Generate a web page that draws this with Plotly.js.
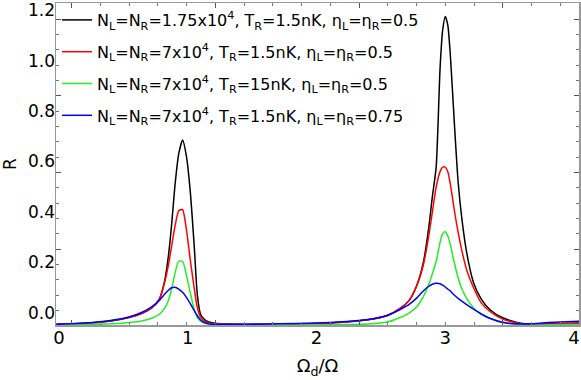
<!DOCTYPE html>
<html>
<head>
<meta charset="utf-8">
<script src="https://cdn.plot.ly/plotly-3.0.1.min.js"></script>
<style>
  html, body { margin: 0; padding: 0; background: #fff; }
  #chart { width: 581px; height: 380px; }
</style>
</head>
<body>
<div id="chart"></div>
<script>
// Drive frequency Ω_d/Ω (shared by all curves)
const omega = [-0.02, 0.2, 0.4, 0.55, 0.65, 0.72, 0.78, 0.82, 0.85, 0.875, 0.9, 0.93, 0.96, 0.99,
    1.02, 1.05, 1.075, 1.1, 1.14, 1.2, 1.4, 1.7, 2.0, 2.2, 2.4, 2.55, 2.65, 2.72, 2.78, 2.83,
    2.87, 2.9, 2.93, 2.96, 2.98, 3.0, 3.02, 3.04, 3.07, 3.1, 3.13, 3.17, 3.22, 3.28, 3.35,
    3.45, 3.6, 3.8, 4.04];

// R for each parameter set
const rBlack = [-0.045, -0.041, -0.032, -0.017, 0.0, 0.02, 0.055, 0.125, 0.225, 0.35, 0.5, 0.63, 0.685, 0.62,
    0.48, 0.27, 0.07, -0.005, -0.03, -0.04, -0.045, -0.044, -0.042, -0.037, -0.027, -0.01, 0.018, 0.05, 0.11, 0.2,
    0.33, 0.46, 0.58, 0.97, 1.12, 1.175, 1.14, 1.02, 0.76, 0.52, 0.37, 0.23, 0.12, 0.055, 0.012,
    -0.02, -0.042, -0.043, -0.04];
const rRed = [-0.045, -0.041, -0.032, -0.017, 0.0, 0.02, 0.055, 0.12, 0.19, 0.265, 0.34, 0.405, 0.41, 0.33,
    0.21, 0.1, 0.02, -0.015, -0.035, -0.042, -0.045, -0.044, -0.042, -0.037, -0.027, -0.01, 0.018, 0.05, 0.11, 0.19,
    0.3, 0.4, 0.5, 0.56, 0.578, 0.578, 0.56, 0.51, 0.41, 0.32, 0.245, 0.165, 0.1, 0.04, 0.005,
    -0.025, -0.044, -0.044, -0.04];
const rGreen = [-0.047, -0.046, -0.043, -0.038, -0.031, -0.021, -0.005, 0.018, 0.05, 0.095, 0.155, 0.205, 0.205, 0.15,
    0.08, 0.015, -0.018, -0.032, -0.042, -0.045, -0.047, -0.047, -0.047, -0.046, -0.044, -0.036, -0.018, 0.0, 0.026, 0.065,
    0.11, 0.155, 0.205, 0.28, 0.315, 0.322, 0.305, 0.27, 0.2, 0.14, 0.095, 0.055, 0.02, -0.005, -0.022,
    -0.037, -0.047, -0.047, -0.046];
const rBlue = [-0.045, -0.04, -0.03, -0.015, 0.004, 0.024, 0.05, 0.074, 0.09, 0.1, 0.102, 0.095, 0.082, 0.062,
    0.037, 0.01, -0.011, -0.027, -0.04, -0.045, -0.045, -0.043, -0.04, -0.035, -0.026, -0.01, 0.014, 0.034, 0.06, 0.087,
    0.105, 0.114, 0.118, 0.116, 0.11, 0.103, 0.095, 0.087, 0.071, 0.058, 0.047, 0.032, 0.015, -0.004, -0.022,
    -0.038, -0.044, -0.038, -0.033];

const seriesNames = [
    'N<sub>L</sub>=N<sub>R</sub>=1.75x10<sup>4</sup>, T<sub>R</sub>=1.5nK, η<sub>L</sub>=η<sub>R</sub>=0.5',
    'N<sub>L</sub>=N<sub>R</sub>=7x10<sup>4</sup>, T<sub>R</sub>=1.5nK, η<sub>L</sub>=η<sub>R</sub>=0.5',
    'N<sub>L</sub>=N<sub>R</sub>=7x10<sup>4</sup>, T<sub>R</sub>=15nK, η<sub>L</sub>=η<sub>R</sub>=0.5',
    'N<sub>L</sub>=N<sub>R</sub>=7x10<sup>4</sup>, T<sub>R</sub>=1.5nK, η<sub>L</sub>=η<sub>R</sub>=0.75'
];
const seriesColors = ['#000000', '#ff0000', '#22ee22', '#0000ff'];
const seriesValues = [rBlack, rRed, rGreen, rBlue];

const xTickVals = [0, 1, 2, 3, 4];
const yTickVals = [0, 0.2, 0.4, 0.6, 0.8, 1.0, 1.2];

// Build traces
const traces = seriesValues.map((vals, i) => ({
    x: omega,
    y: vals,
    type: 'scatter',
    mode: 'lines',
    name: seriesNames[i],
    legendgroup: 'g' + i,
    line: { color: seriesColors[i], width: 1.5, shape: 'spline', smoothing: 0.6 },
    hoverinfo: 'skip'
}));

// Empty trace so the frame axes (ticks only) get drawn
traces.push({
    x: [null], y: [null], xaxis: 'x2', yaxis: 'y2',
    type: 'scatter', mode: 'lines', showlegend: false, hoverinfo: 'skip'
});

const axisGrey = '#999999';
const fontFamily = 'DejaVu Sans, sans-serif';

const layout = {
    width: 581,
    height: 380,
    margin: { l: 56, r: 2, t: 3, b: 55 },
    paper_bgcolor: '#ffffff',
    plot_bgcolor: '#ffffff',
    font: { family: fontFamily, color: '#000000', size: 17 },
    showlegend: true,
    legend: {
        x: 0.002, y: 1.0, xanchor: 'left', yanchor: 'top',
        bgcolor: 'rgba(0,0,0,0)',
        font: { family: fontFamily, size: 16, color: '#000000' },
        tracegroupgap: 8
    },
    xaxis: {
        range: [-0.023, 4.039],
        tickmode: 'array',
        tickvals: xTickVals,
        ticks: '',
        showgrid: false,
        zeroline: false,
        showline: false,
        tickfont: { size: 18 },
        title: { text: 'Ω<sub>d</sub>/Ω', font: { size: 18 }, standoff: 12 }
    },
    yaxis: {
        range: [-0.0475, 1.228],
        tickmode: 'array',
        tickvals: yTickVals,
        tickformat: '.1f',
        ticks: '',
        showgrid: false,
        zeroline: false,
        showline: false,
        tickfont: { size: 17 },
        title: { text: 'R', font: { size: 17 }, standoff: 8 }
    },
    xaxis2: {
        overlaying: 'x',
        anchor: 'y2',
        range: [56, 579],
        tickmode: 'linear',
        tick0: 71.7,
        dtick: 143.7,
        ticks: 'inside',
        ticklen: 5,
        tickcolor: '#555555',
        showticklabels: false,
        showgrid: false,
        zeroline: false,
        showline: true,
        linecolor: axisGrey,
        linewidth: 1.5,
        mirror: 'ticks',
        minor: { tick0: 71.7, dtick: 28.74, ticks: 'inside', ticklen: 3, tickcolor: '#777777', showgrid: false }
    },
    yaxis2: {
        overlaying: 'y',
        anchor: 'x2',
        side: 'left',
        range: [325, 3],
        tickmode: 'linear',
        tick0: 19.3,
        dtick: 76.65,
        ticks: 'inside',
        ticklen: 5,
        tickcolor: '#555555',
        showticklabels: false,
        showgrid: false,
        zeroline: false,
        showline: true,
        linecolor: axisGrey,
        linewidth: 1.5,
        mirror: 'ticks',
        minor: { tick0: 19.3, dtick: 15.33, ticks: 'inside', ticklen: 3, tickcolor: '#777777', showgrid: false }
    }
};

Plotly.newPlot('chart', traces, layout, { staticPlot: true, displayModeBar: false });
</script>
</body>
</html>
